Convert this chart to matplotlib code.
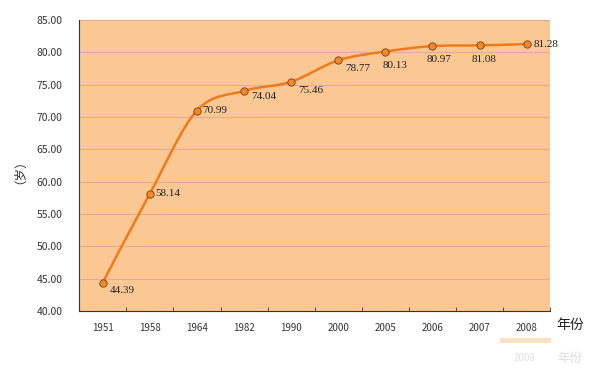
import matplotlib.pyplot as plt
from matplotlib.path import Path
from matplotlib.patches import PathPatch, Rectangle

plt.rcParams['font.family'] = ['Noto Sans CJK SC', 'DejaVu Sans']

# data
years = ['1951', '1958', '1964', '1982', '1990', '2000', '2005', '2006', '2007', '2008']
life = [44.39, 58.14, 70.99, 74.04, 75.46, 78.77, 80.13, 80.97, 81.08, 81.28]
label_offsets = [(5, -6), (4, 0), (4, 0), (5, -4), (5, -6), (5, -6), (-2, -10),
                 (-4, -10), (-6, -10), (5, 0)]

fig = plt.figure(figsize=(6, 3.71), dpi=100)
ax = fig.add_axes([0.132, 0.162, 0.785, 0.784])
ax.set_facecolor('#fbc894')

x = list(range(len(years)))

# smooth line through the points (Catmull-Rom as cubic bezier)
verts = [(x[0], life[0])]
codes = [Path.MOVETO]
n = len(x)
for i in range(n - 1):
    p0 = (x[max(i - 1, 0)], life[max(i - 1, 0)])
    p1 = (x[i], life[i])
    p2 = (x[i + 1], life[i + 1])
    p3 = (x[min(i + 2, n - 1)], life[min(i + 2, n - 1)])
    c1 = (p1[0] + (p2[0] - p0[0]) / 6, p1[1] + (p2[1] - p0[1]) / 6)
    c2 = (p2[0] - (p3[0] - p1[0]) / 6, p2[1] - (p3[1] - p1[1]) / 6)
    verts += [c1, c2, p2]
    codes += [Path.CURVE4] * 3
ax.add_patch(PathPatch(Path(verts, codes), fill=False, edgecolor='#ee7a1c', lw=1.8, zorder=3))

ax.scatter(x, life, s=28, color='#f08a2a', edgecolor='#7a3a10', linewidth=0.6, zorder=4)

for xi, v, (dx, dy) in zip(x, life, label_offsets):
    ax.annotate(f'{v:.2f}', (xi, v), xytext=(dx, dy), textcoords='offset points',
                ha='left', va='center', fontsize=8, family='Liberation Serif', color='#222222')

ax.set_xlim(-0.5, n - 0.5)
ax.set_ylim(40, 85)
ax.set_yticks(range(40, 86, 5))
ax.set_yticklabels([f'{v:.2f}' for v in range(40, 86, 5)], fontsize=7.5, color='#333333')
ax.set_xticks(x)
ax.set_xticklabels(years, fontsize=7, color='#333333')
ax.set_xticks([i + 0.5 for i in range(-1, n)], minor=True)
ax.tick_params(axis='x', which='major', length=0, pad=9)
ax.tick_params(axis='x', which='minor', length=3, direction='in', color='#333333')
ax.tick_params(axis='y', length=0, pad=12)

ax.grid(axis='y', color='#e8a898', lw=0.8)
ax.set_axisbelow(True)
for s in ['top', 'right']:
    ax.spines[s].set_visible(False)
ax.spines['left'].set_color('#333333')
ax.spines['bottom'].set_color('#333333')

ax.set_ylabel('（岁）', fontsize=9, color='#333333', labelpad=12)
fig.text(0.95, 0.125, '年份', fontsize=10, color='#222222', ha='center', va='center')
fig.patches.append(Rectangle((0.833, 0.075), 0.085, 0.014, transform=fig.transFigure,
                             facecolor='#fbe0c4', edgecolor='none'))
fig.text(0.95, 0.035, '年份', fontsize=9, color='#dddddd', ha='center', va='center')
fig.text(0.875, 0.035, '2008', fontsize=7, color='#e2e2e2', ha='center', va='center')

fig.savefig('out.png', dpi=100)
